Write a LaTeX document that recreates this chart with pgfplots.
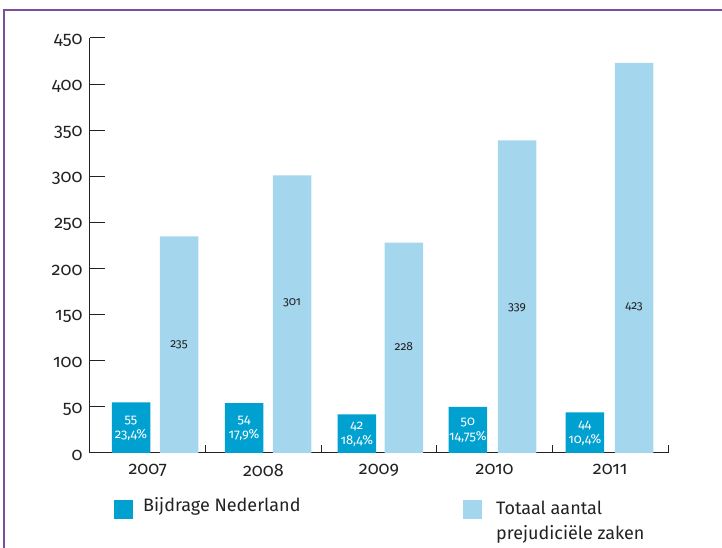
\documentclass[border=0pt]{standalone}
\usepackage{pgfplots}
\pgfplotsset{compat=1.18}
\usepackage{fontspec}
\setmainfont{Fira Sans}[Numbers=OldStyle]
\definecolor{dblue}{RGB}{0,160,208}
\definecolor{lblue}{RGB}{164,214,238}
\definecolor{framec}{RGB}{125,78,160}
\definecolor{txt}{RGB}{34,34,34}
\begin{document}
\begin{tikzpicture}
\useasboundingbox (-90pt,-95pt) rectangle (632pt,453pt);
\draw[framec, line width=1.5pt] (-86pt,-100pt) -- (-86pt,443pt) -- (640pt,443pt);
\begin{axis}[
 at={(0pt,0pt)}, anchor=south west,
 scale only axis, width=578pt, height=415pt,
 xmin=-0.5, xmax=4.5, ymin=0, ymax=450,
 axis x line=bottom, axis y line=left,
 axis line style={-, line width=1pt, color=txt},
 ytick={0,50,...,450},
 xtick={0,1,2,3,4}, xticklabels={2007,2008,2009,2010,2011},
 minor xtick={0.5,1.5,2.5,3.5,4.5},
 major x tick style={draw=none},
 tick align=inside,
 major tick length=15pt, minor tick length=8pt,
 tick style={line width=1pt, color=txt},
 /pgf/number format/assume math mode=true,
 ticklabel style={font=\fontsize{18}{21}\selectfont, text=txt},
 yticklabel style={xshift=-4pt, yshift=-2pt},
 xticklabel style={yshift=-8pt},
 clip=false,
]
\addplot[ybar, bar width=38.5pt, bar shift=0pt, fill=dblue, draw=none]
  coordinates {(-0.145,55) (0.833,54) (1.808,42) (2.768,50) (3.781,44)};
\addplot[ybar, bar width=38.5pt, bar shift=0pt, fill=lblue, draw=none]
  coordinates {(0.270,235) (1.248,301) (2.215,228) (3.194,339) (4.207,423)};
% labels in light bars
\addplot[draw=none, mark=none, nodes near coords, point meta=explicit symbolic,
  every node near coord/.style={anchor=center, font=\fontsize{12}{14}\selectfont, text=txt}]
  coordinates {(0.270,117) [235] (1.248,163) [301] (2.215,115) [228] (3.194,158) [339] (4.207,159) [423]};
% counts in dark bars
\addplot[draw=none, mark=none, nodes near coords, point meta=explicit symbolic,
  every node near coord/.style={anchor=center, font=\fontsize{13}{15}\selectfont, text=white}]
  coordinates {(-0.145,35.5) [55] (0.833,35) [54] (1.808,29) [42] (2.768,33) [50] (3.781,30) [44]};
% percentages in dark bars
\addplot[draw=none, mark=none, nodes near coords, point meta=explicit symbolic,
  every node near coord/.style={anchor=center, font=\fontsize{13}{15}\selectfont, text=white}]
  coordinates {(-0.145,20) [23,4\%] (0.833,19.5) [17,9\%] (1.808,13.5) [18,4\%] (2.768,17.5) [14,75\%] (3.781,14.5) [10,4\%]};
\end{axis}
% legend
\fill[dblue] (24pt,-47pt) rectangle (43pt,-65.7pt);
\node[anchor=base west, inner sep=0pt, text=txt, font=\fontsize{18}{21}\selectfont] at (53pt,-59pt) {Bijdrage Nederland};
\fill[lblue] (372.7pt,-47pt) rectangle (392pt,-65.7pt);
\node[anchor=base west, inner sep=0pt, text=txt, font=\fontsize{18}{21}\selectfont] at (406pt,-61pt) {Totaal aantal};
\node[anchor=base west, inner sep=0pt, text=txt, font=\fontsize{18}{21}\selectfont] at (406pt,-86pt) {prejudiciële zaken};
\end{tikzpicture}
\end{document}
